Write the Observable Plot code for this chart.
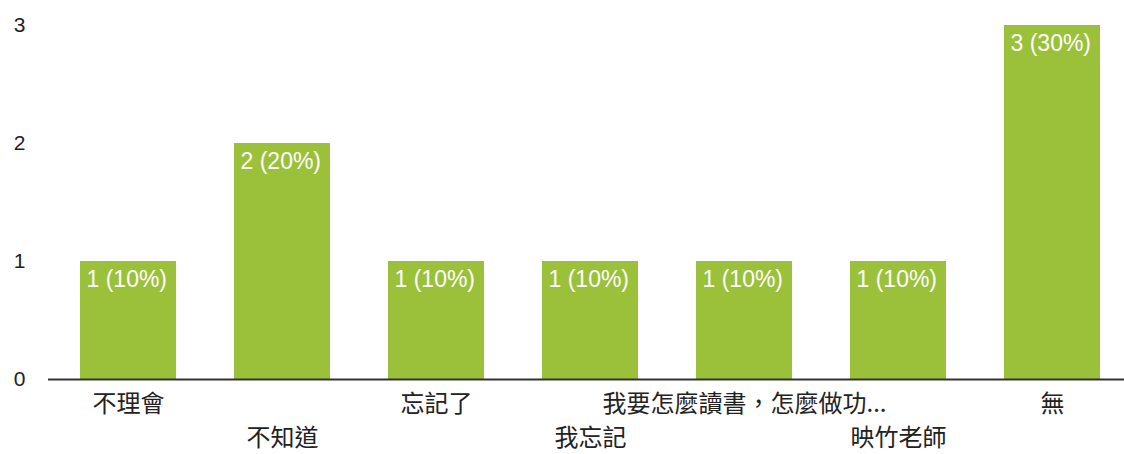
<!DOCTYPE html>
<html lang="zh-TW">
<head>
<meta charset="utf-8">
<script src="https://cdn.jsdelivr.net/npm/d3@7"></script>
<script src="https://cdn.jsdelivr.net/npm/@observablehq/plot@0.6"></script>
<style>
  html, body { margin: 0; padding: 0; background: #ffffff; }
  #chart svg { display: block; }
  .cjk text { font-feature-settings: "locl" 1; }
</style>
</head>
<body>
<div id="chart"></div>
<script>
const categories = ["不理會", "不知道", "忘記了", "我忘記", "我要怎麼讀書，怎麼做功...", "映竹老師", "無"];
const counts = [1, 2, 1, 1, 1, 1, 3];
const percents = [10, 20, 10, 10, 10, 10, 30];
const yTicks = [0, 1, 2, 3];

const data = categories.map((c, i) => ({
  category: c,
  count: counts[i],
  label: `${counts[i]} (${percents[i]}%)`,
  row: i % 2
}));

const font = "Arial, 'Liberation Sans', 'Noto Sans CJK TC', sans-serif";
const cjk = "'Noto Sans CJK TC', sans-serif";

const chart = Plot.plot({
  width: 1124,
  height: 454,
  marginLeft: 48,
  marginRight: 0,
  marginTop: 25,
  marginBottom: 75,
  style: { fontFamily: font, background: "#ffffff", color: "#222" },
  x: { domain: categories, range: [48, 1133], paddingInner: 0.375, paddingOuter: 0.2025, axis: null },
  y: { domain: [0, 3], axis: null },
  marks: [
    Plot.barY(data, { x: "category", y: "count", fill: "#9bc13b" }),
    Plot.ruleY([0], { stroke: "#333", strokeWidth: 2 }),
    Plot.text(yTicks, { y: d => d, text: d => String(d), frameAnchor: "left", dx: -23, textAnchor: "end", lineAnchor: "middle", fontSize: 21, fill: "#222" }),
    Plot.text(data, { x: "category", y: "count", text: "label", textAnchor: "start", dx: -42, dy: 18, lineAnchor: "middle", fill: "#ffffff", fontSize: 23 }),
    Plot.text(data.filter(d => d.row === 0), { x: "category", y: 0, text: "category", textAnchor: "middle", dy: 25, lineAnchor: "middle", fill: "#222", fontSize: 24, fontFamily: cjk, className: "cjk" }),
    Plot.text(data.filter(d => d.row === 1), { x: "category", y: 0, text: "category", textAnchor: "middle", dy: 59, lineAnchor: "middle", fill: "#222", fontSize: 24, fontFamily: cjk, className: "cjk" })
  ]
});
chart.setAttribute("lang", "zh-TW");
document.getElementById("chart").append(chart);
</script>
</body>
</html>
